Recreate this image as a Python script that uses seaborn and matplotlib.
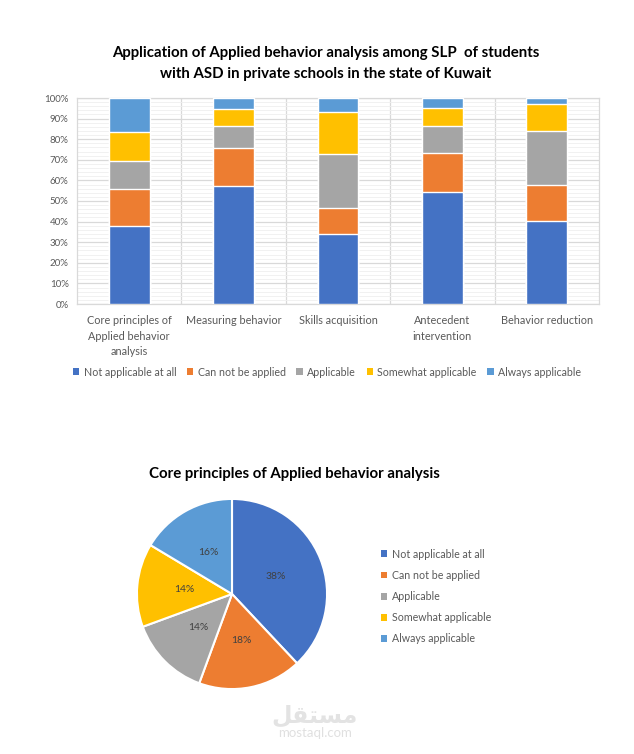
import matplotlib
matplotlib.use("Agg")
import matplotlib.pyplot as plt
import seaborn as sns
import numpy as np
from matplotlib.patches import Patch
from matplotlib.ticker import MultipleLocator, PercentFormatter

# --- data (percent of SLPs per response) ---
categories = [
    "Core principles of\nApplied behavior\nanalysis",
    "Measuring behavior",
    "Skills acquisition",
    "Antecedent\nintervention",
    "Behavior reduction",
]
levels = ["Not applicable at all", "Can not be applied", "Applicable",
          "Somewhat applicable", "Always applicable"]
not_applicable = [38.0, 57.1, 34.2, 54.2, 40.5]
cannot_apply = [17.6, 18.4, 12.3, 18.9, 17.1]
applicable = [13.8, 11.0, 26.5, 13.5, 26.6]
somewhat = [14.2, 8.4, 20.3, 8.4, 12.9]
always = [16.4, 5.1, 6.7, 5.0, 2.9]

colors = ["#4472C4", "#ED7D31", "#A5A5A5", "#FFC000", "#5B9BD5"]
text_grey = "#595959"

sns.set_theme(style="white")
plt.rcParams["font.family"] = ["Lato", "DejaVu Sans"]

series = np.array([not_applicable, cannot_apply, applicable, somewhat, always])
cum = np.cumsum(series, axis=0)

fig = plt.figure(figsize=(6.34, 7.54), dpi=100)

# --- stacked 100% bar chart ---
ax = fig.add_axes([77 / 634, 450 / 754, 522 / 634, 206 / 754])
# draw cumulative totals from the top layer down so each lower layer covers the rest
for i in range(len(levels) - 1, -1, -1):
    sns.barplot(x=categories, y=cum[i], color=colors[i], width=0.39,
                saturation=1, errorbar=None, ax=ax, zorder=3)

ax.set_ylim(0, 100)
ax.set_xlim(-0.5, len(categories) - 0.5)
ax.yaxis.set_major_locator(MultipleLocator(10))
ax.yaxis.set_minor_locator(MultipleLocator(2))
ax.yaxis.set_major_formatter(PercentFormatter(decimals=0))
ax.grid(which="major", axis="y", color="#d9d9d9", linewidth=0.9, zorder=0)
ax.grid(which="minor", axis="y", color="#efefef", linewidth=0.6, zorder=0)
for xb in np.arange(0.5, len(categories) - 0.5):
    ax.axvline(xb, color="#d9d9d9", linewidth=0.9, zorder=0)
for s in ax.spines.values():
    s.set_color("#d9d9d9")
    s.set_linewidth(0.9)
ax.tick_params(axis="both", which="both", length=0, colors=text_grey, labelsize=7)
ax.tick_params(axis="y", pad=6)
ax.tick_params(axis="x", pad=8, labelsize=7.8)
for lab in ax.get_xticklabels():
    lab.set_linespacing(1.5)
ax.set_xlabel("")
ax.set_ylabel("")

fig.text(326 / 634, 1 - 63.5 / 754,
         "Application of Applied behavior analysis among SLP  of students\n"
         "with ASD in private schools in the state of Kuwait",
         ha="center", va="center", fontsize=10.8, fontweight="bold",
         color="black", linespacing=1.6)

handles = [Patch(facecolor=c, edgecolor="none") for c in colors]
fig.legend(handles, levels, loc="center", bbox_to_anchor=(327 / 634, 1 - 372 / 754),
           ncol=5, frameon=False, fontsize=7.7, handlelength=0.6, handleheight=0.6,
           handletextpad=0.4, columnspacing=1.0, labelcolor=text_grey)

# --- pie chart of the first category ---
pie_vals = series[:, 0]
pax = fig.add_axes([136 / 634, 64 / 754, 192 / 634, 192 / 754])
pax.pie(pie_vals, colors=colors, startangle=90, counterclock=False,
        autopct="%.0f%%", pctdistance=0.5,
        wedgeprops=dict(edgecolor="white", linewidth=1.5),
        textprops=dict(color="#404040", fontsize=7.5))
pax.set_xlim(-1.01, 1.01)
pax.set_ylim(-1.01, 1.01)
pax.set_aspect("equal")

fig.text(294 / 634, 1 - 474 / 754, "Core principles of Applied behavior analysis",
         ha="center", va="center", fontsize=10.8, fontweight="bold", color="black")

fig.legend(handles, levels, loc="upper left", bbox_to_anchor=(371 / 634, 1 - 539 / 754),
           ncol=1, frameon=False, fontsize=7.7, handlelength=0.6, handleheight=0.6,
           handletextpad=0.5, labelspacing=0.95, labelcolor=text_grey)

# --- watermark ---
fig.text(315 / 634, 1 - 716 / 754, "\ufede\ufed8\ufe98\ufeb4\ufee3",
         ha="center", va="center", fontsize=17, fontweight="bold",
         color="#e3e3e3", family=["DejaVu Sans"])
fig.text(315 / 634, 1 - 733 / 754, "mostaql.com", ha="center", va="center",
         fontsize=9.5, color="#e0e0e0")

fig.savefig("out.png", dpi=100, facecolor="white")
